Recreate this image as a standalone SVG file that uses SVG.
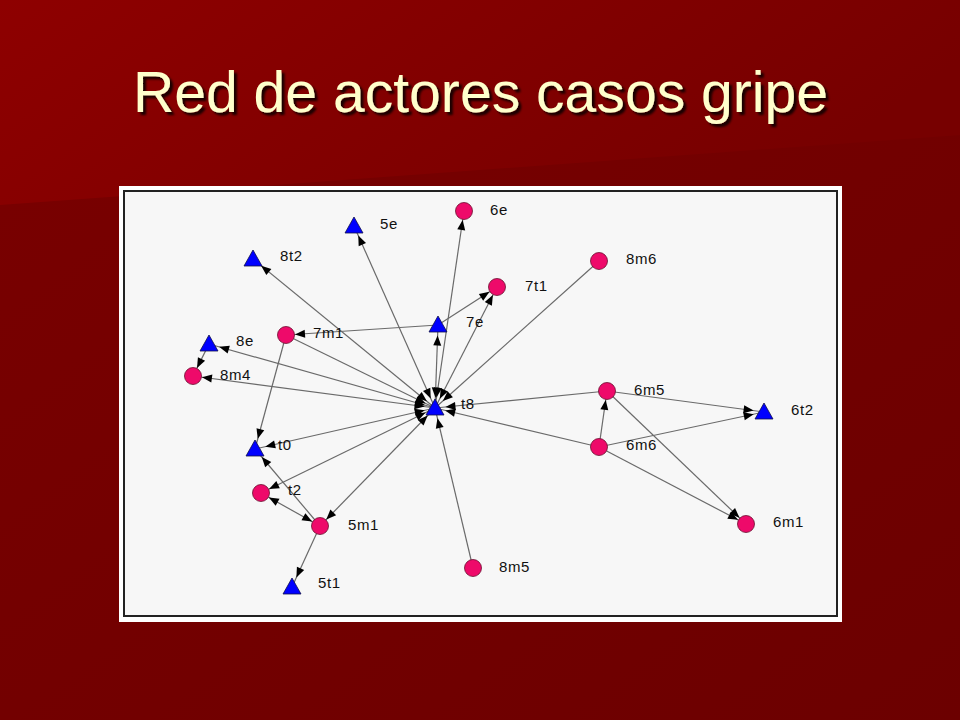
<svg xmlns="http://www.w3.org/2000/svg" width="960" height="720" viewBox="0 0 960 720">
<defs>
<linearGradient id="bgLow" x1="0" y1="0" x2="1" y2="1">
<stop offset="0" stop-color="#7a0000"/>
<stop offset="1" stop-color="#6c0000"/>
</linearGradient>
<linearGradient id="bgHigh" x1="0" y1="0" x2="1" y2="0.3">
<stop offset="0" stop-color="#8e0000"/>
<stop offset="1" stop-color="#770000"/>
</linearGradient>
<filter id="sh" x="-5%" y="-20%" width="110%" height="140%">
<feGaussianBlur in="SourceAlpha" stdDeviation="1"/>
<feOffset dx="2.5" dy="2.5" result="o"/>
<feFlood flood-color="#000" flood-opacity="0.8"/>
<feComposite in2="o" operator="in"/>
<feMerge><feMergeNode/><feMergeNode in="SourceGraphic"/></feMerge>
</filter>
<marker id="ac" viewBox="0 0 10 8" markerWidth="10" markerHeight="8" refX="19" refY="4" orient="auto-start-reverse" markerUnits="userSpaceOnUse" overflow="visible">
<path d="M0,0 L10,4 L0,8 z" fill="#000"/>
</marker>
<marker id="at" viewBox="0 0 10 8" markerWidth="10" markerHeight="8" refX="20.5" refY="4" orient="auto-start-reverse" markerUnits="userSpaceOnUse" overflow="visible">
<path d="M0,0 L10,4 L0,8 z" fill="#000"/>
</marker>
<path id="tri" d="M0,-9 L9,7 L-9,7 z"/>
</defs>
<style>
.e{stroke:#6a6a6a;stroke-width:1.2;fill:none}
.c{fill:#ee0a6a;stroke:#6a1030;stroke-width:0.8}
.t{fill:#0000ff;stroke:#10104a;stroke-width:0.8}
.l{font-family:"Liberation Sans",Arial,sans-serif;font-size:15px;fill:#111;letter-spacing:0.6px}
.title{font-family:"Liberation Sans",Arial,sans-serif;font-size:58px;fill:#ffffcc}
</style>
<rect x="0" y="0" width="960" height="720" fill="url(#bgLow)"/>
<polygon points="0,0 960,0 960,135 0,205" fill="url(#bgHigh)"/>
<text class="title" x="133" y="112" textLength="695" lengthAdjust="spacingAndGlyphs" filter="url(#sh)">Red de actores casos gripe</text>
<rect x="119" y="186" width="723" height="436" fill="#ffffff"/>
<rect x="124" y="191" width="713" height="425" fill="#f7f7f7" stroke="#222" stroke-width="2"/>
<g id="edges">
<line class="e" x1="435" y1="408" x2="354" y2="226" marker-start="url(#at)" marker-end="url(#at)"/>
<line class="e" x1="435" y1="408" x2="464" y2="211" marker-start="url(#at)" marker-end="url(#ac)"/>
<line class="e" x1="435" y1="408" x2="253" y2="259" marker-start="url(#at)" marker-end="url(#at)"/>
<line class="e" x1="435" y1="408" x2="438" y2="325" marker-start="url(#at)" marker-end="url(#at)"/>
<line class="e" x1="435" y1="408" x2="497" y2="287" marker-start="url(#at)" marker-end="url(#ac)"/>
<line class="e" x1="438" y1="325" x2="497" y2="287" marker-end="url(#ac)"/>
<line class="e" x1="438" y1="325" x2="286" y2="335" marker-end="url(#ac)"/>
<line class="e" x1="599" y1="261" x2="435" y2="408" marker-end="url(#at)"/>
<line class="e" x1="435" y1="408" x2="209" y2="344" marker-start="url(#at)" marker-end="url(#at)"/>
<line class="e" x1="435" y1="408" x2="193" y2="376" marker-start="url(#at)" marker-end="url(#ac)"/>
<line class="e" x1="209" y1="344" x2="193" y2="376" marker-end="url(#ac)"/>
<line class="e" x1="286" y1="335" x2="435" y2="408" marker-end="url(#at)"/>
<line class="e" x1="286" y1="335" x2="255" y2="449" marker-end="url(#at)"/>
<line class="e" x1="435" y1="408" x2="255" y2="449" marker-start="url(#at)" marker-end="url(#at)"/>
<line class="e" x1="435" y1="408" x2="261" y2="493" marker-start="url(#at)" marker-end="url(#ac)"/>
<line class="e" x1="435" y1="408" x2="320" y2="526" marker-start="url(#at)" marker-end="url(#ac)"/>
<line class="e" x1="320" y1="526" x2="255" y2="449" marker-end="url(#at)"/>
<line class="e" x1="261" y1="493" x2="320" y2="526" marker-start="url(#ac)" marker-end="url(#ac)"/>
<line class="e" x1="320" y1="526" x2="292" y2="587" marker-end="url(#at)"/>
<line class="e" x1="473" y1="568" x2="435" y2="408" marker-end="url(#at)"/>
<line class="e" x1="607" y1="391" x2="435" y2="408" marker-end="url(#at)"/>
<line class="e" x1="599" y1="447" x2="435" y2="408" marker-end="url(#at)"/>
<line class="e" x1="599" y1="447" x2="607" y2="391" marker-end="url(#ac)"/>
<line class="e" x1="607" y1="391" x2="764" y2="412" marker-end="url(#at)"/>
<line class="e" x1="599" y1="447" x2="764" y2="412" marker-end="url(#at)"/>
<line class="e" x1="607" y1="391" x2="746" y2="524" marker-end="url(#ac)"/>
<line class="e" x1="599" y1="447" x2="746" y2="524" marker-end="url(#ac)"/>
</g>
<g id="n-5e"><use href="#tri" class="t" x="354" y="226"/><text class="l" x="380" y="229">5e</text></g>
<g id="n-6e"><circle class="c" cx="464" cy="211" r="8.5"/><text class="l" x="490" y="215">6e</text></g>
<g id="n-8t2"><use href="#tri" class="t" x="253" y="259"/><text class="l" x="280" y="261">8t2</text></g>
<g id="n-7t1"><circle class="c" cx="497" cy="287" r="8.5"/><text class="l" x="525" y="291">7t1</text></g>
<g id="n-8m6"><circle class="c" cx="599" cy="261" r="8.5"/><text class="l" x="626" y="264">8m6</text></g>
<g id="n-7e"><use href="#tri" class="t" x="438" y="325"/><text class="l" x="466" y="327">7e</text></g>
<g id="n-7m1"><circle class="c" cx="286" cy="335" r="8.5"/><text class="l" x="313" y="338">7m1</text></g>
<g id="n-8e"><use href="#tri" class="t" x="209" y="344"/><text class="l" x="236" y="346">8e</text></g>
<g id="n-8m4"><circle class="c" cx="193" cy="376" r="8.5"/><text class="l" x="220" y="380">8m4</text></g>
<g id="n-t8"><use href="#tri" class="t" x="435" y="408"/><text class="l" x="461" y="409">t8</text></g>
<g id="n-6m5"><circle class="c" cx="607" cy="391" r="8.5"/><text class="l" x="634" y="395">6m5</text></g>
<g id="n-6t2"><use href="#tri" class="t" x="764" y="412"/><text class="l" x="791" y="415">6t2</text></g>
<g id="n-6m6"><circle class="c" cx="599" cy="447" r="8.5"/><text class="l" x="626" y="450">6m6</text></g>
<g id="n-t0"><use href="#tri" class="t" x="255" y="449"/><text class="l" x="278" y="450">t0</text></g>
<g id="n-t2"><circle class="c" cx="261" cy="493" r="8.5"/><text class="l" x="288" y="495">t2</text></g>
<g id="n-5m1"><circle class="c" cx="320" cy="526" r="8.5"/><text class="l" x="348" y="530">5m1</text></g>
<g id="n-6m1"><circle class="c" cx="746" cy="524" r="8.5"/><text class="l" x="773" y="527">6m1</text></g>
<g id="n-8m5"><circle class="c" cx="473" cy="568" r="8.5"/><text class="l" x="499" y="572">8m5</text></g>
<g id="n-5t1"><use href="#tri" class="t" x="292" y="587"/><text class="l" x="318" y="588">5t1</text></g>
</svg>
